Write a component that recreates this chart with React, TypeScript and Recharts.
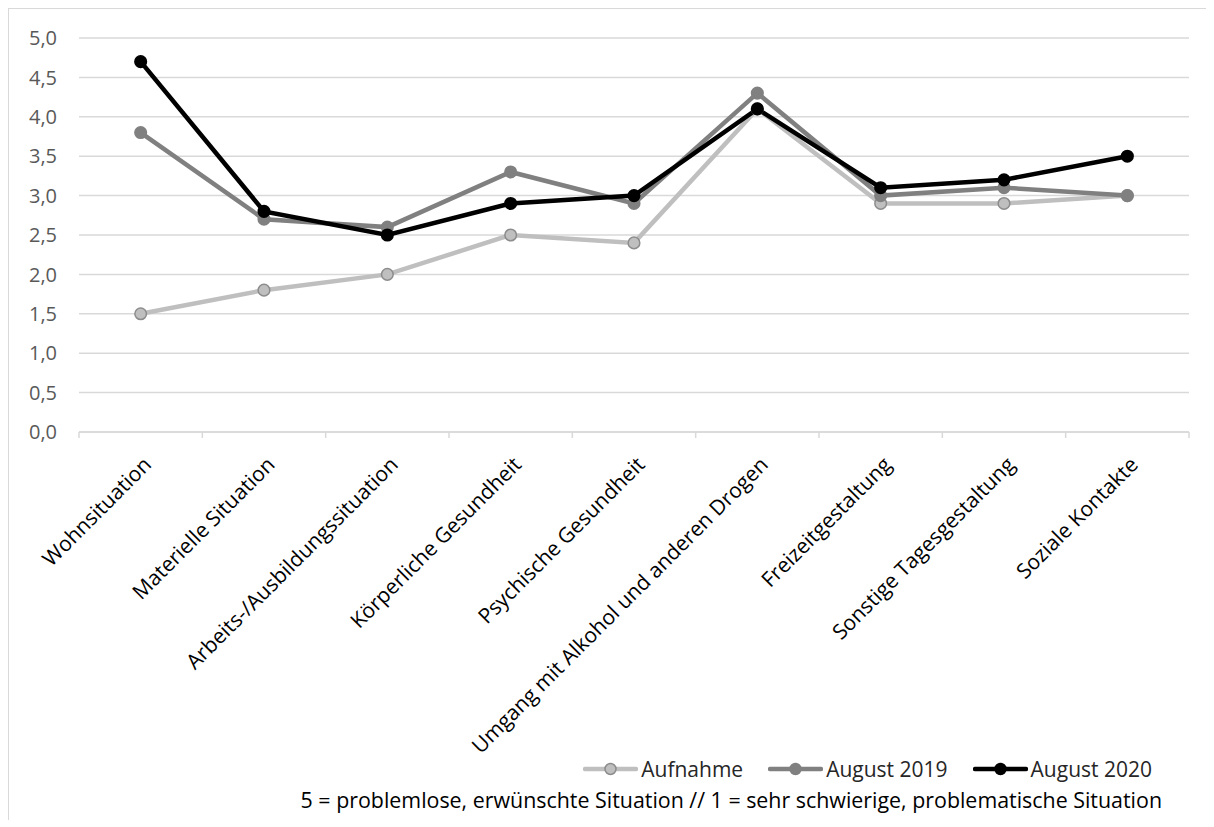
import React from "react";
import { LineChart, Line, XAxis, YAxis, CartesianGrid } from "recharts";

// Kategorien und Werte
const categories = [
  "Wohnsituation",
  "Materielle Situation",
  "Arbeits-/Ausbildungssituation",
  "Körperliche Gesundheit",
  "Psychische Gesundheit",
  "Umgang mit Alkohol und anderen Drogen",
  "Freizeitgestaltung",
  "Sonstige Tagesgestaltung",
  "Soziale Kontakte",
];
const aufnahme = [1.5, 1.8, 2.0, 2.5, 2.4, 4.1, 2.9, 2.9, 3.0];
const august2019 = [3.8, 2.7, 2.6, 3.3, 2.9, 4.3, 3.0, 3.1, 3.0];
const august2020 = [4.7, 2.8, 2.5, 2.9, 3.0, 4.1, 3.1, 3.2, 3.5];
const yTicks = [0, 0.5, 1, 1.5, 2, 2.5, 3, 3.5, 4, 4.5, 5];
const note =
  "5 = problemlose, erwünschte Situation // 1 = sehr schwierige, problematische Situation";

const SERIES = [
  { key: "aufnahme", name: "Aufnahme", color: "#bfbfbf", dotStroke: "#8c8c8c" },
  { key: "a2019", name: "August 2019", color: "#808080", dotStroke: "#808080" },
  { key: "a2020", name: "August 2020", color: "#000000", dotStroke: "#000000" },
];

const data = categories.map((name, i) => ({
  name,
  aufnahme: aufnahme[i],
  a2019: august2019[i],
  a2020: august2020[i],
}));

const FONT = "'Open Sans', 'Noto Sans', sans-serif";
const W = 1198;
const H = 811;
const PLOT_W = 1110;
const BAND = PLOT_W / categories.length;

// Kategorie-Beschriftung, 45° gedreht, mit Teilstrichen an den Kategoriegrenzen
function CategoryTick(props: any) {
  const { x, y, payload, index } = props;
  const lx = x + 12;
  const ly = y + 34;
  return (
    <g>
      <line x1={x - BAND / 2} x2={x - BAND / 2} y1={y} y2={y + 6} stroke="#d9d9d9" strokeWidth={1.5} />
      {index === categories.length - 1 && (
        <line x1={x + BAND / 2} x2={x + BAND / 2} y1={y} y2={y + 6} stroke="#d9d9d9" strokeWidth={1.5} />
      )}
      <text
        x={lx}
        y={ly}
        textAnchor="end"
        transform={`rotate(-45, ${lx}, ${ly})`}
        fill="#000"
        fontSize={21}
        fontFamily={FONT}
      >
        {payload.value}
      </text>
    </g>
  );
}

function LegendIcon({ color, dotStroke }: { color: string; dotStroke: string }) {
  return (
    <svg width={55} height={16} style={{ display: "block" }}>
      <line x1={2} x2={53} y1={8} y2={8} stroke={color} strokeWidth={4.5} strokeLinecap="round" />
      <circle cx={27.5} cy={8} r={5.5} fill={color} stroke={dotStroke} strokeWidth={1.5} />
    </svg>
  );
}

export default function App() {
  return (
    <div
      style={{
        position: "relative",
        width: W,
        height: H,
        borderLeft: "1px solid #d9d9d9",
        borderTop: "1px solid #d9d9d9",
        background: "#fff",
        fontFamily: FONT,
      }}
    >
      <LineChart width={W} height={H} data={data} margin={{ top: 29, right: 18, left: 0, bottom: 0 }}>
        <CartesianGrid vertical={false} stroke="#d9d9d9" strokeWidth={1.5} />
        <XAxis
          dataKey="name"
          interval={0}
          height={H - 29 - 394}
          padding={{ left: BAND / 2, right: BAND / 2 }}
          axisLine={{ stroke: "#d9d9d9", strokeWidth: 1.5 }}
          tickLine={false}
          tickSize={0}
          tickMargin={0}
          tick={<CategoryTick />}
        />
        <YAxis
          domain={[0, 5]}
          ticks={yTicks}
          width={70}
          axisLine={false}
          tickLine={false}
          tickSize={6}
          tickMargin={16}
          tick={{ fill: "#595959", fontSize: 20, fontFamily: FONT }}
          tickFormatter={(v: number) => v.toFixed(1).replace(".", ",")}
        />
        {SERIES.map((s) => (
          <Line
            key={s.key}
            dataKey={s.key}
            name={s.name}
            type="linear"
            stroke={s.color}
            strokeWidth={4.5}
            dot={{ r: 5.8, fill: s.color, stroke: s.dotStroke, strokeWidth: 1.5 }}
            activeDot={false}
            isAnimationActive={false}
          />
        ))}
      </LineChart>
      <div
        style={{
          position: "absolute",
          top: 746,
          right: 55,
          height: 28,
          display: "flex",
          alignItems: "center",
          fontSize: 21,
          lineHeight: "28px",
          color: "#262626",
          whiteSpace: "nowrap",
        }}
      >
        {SERIES.map((s, i) => (
          <div key={s.key} style={{ display: "flex", alignItems: "center", marginLeft: i === 0 ? 0 : 25 }}>
            <LegendIcon color={s.color} dotStroke={s.dotStroke} />
            <span style={{ marginLeft: 3 }}>{s.name}</span>
          </div>
        ))}
      </div>
      <div
        style={{
          position: "absolute",
          top: 777,
          right: 45,
          fontSize: 21.4,
          lineHeight: "28px",
          color: "#000",
          whiteSpace: "nowrap",
        }}
      >
        {note}
      </div>
    </div>
  );
}
